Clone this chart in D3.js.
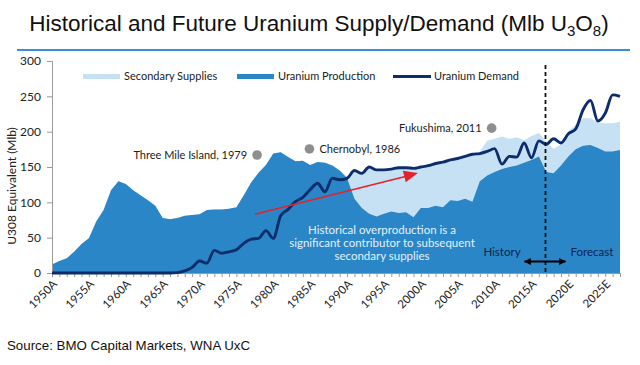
<!DOCTYPE html>
<html>
<head>
<meta charset="utf-8">
<script src="https://cdn.jsdelivr.net/npm/d3@7"></script>
<style>
  html, body { margin: 0; padding: 0; background: #fff; }
  svg { display: block; }
</style>
</head>
<body>
<svg id="chart" width="640" height="365"></svg>
<script>
// ---------- DATA ----------
const years = d3.range(1950, 2028);

const production = [
  12, 17, 21, 30, 41, 49, 73, 89, 117, 130,
  126, 117, 110, 103, 95, 78, 76, 78, 81, 82,
  83, 89, 90, 90, 91, 93, 110, 128, 142, 153,
  169, 171, 164, 158, 159, 153, 157, 156, 152, 145,
  134, 105, 92, 84, 80, 84, 87, 85, 86, 79,
  92, 92, 95, 93, 103, 102, 105, 101, 130, 138,
  143, 147, 150, 152, 156, 160, 165, 143, 141, 152,
  165, 175, 180, 181, 177, 172, 172, 174
];

const totalSupply = [
  12, 17, 21, 30, 41, 49, 73, 89, 117, 130,
  126, 117, 110, 103, 95, 78, 76, 78, 81, 82,
  83, 89, 90, 90, 91, 93, 110, 128, 142, 153,
  169, 171, 164, 158, 159, 153, 157, 156, 152, 145,
  137, 143, 142, 148, 145, 145, 146, 147, 147, 146,
  148, 150, 153, 155, 158, 160, 163, 166, 172, 187,
  190, 193, 190, 192, 188, 194, 198, 186, 176, 182,
  200, 210, 219, 219, 213, 212, 212, 214
];

const demand = [
  0, 0, 0, 0, 0, 0, 0, 0, 0, 0,
  0, 0, 0, 0, 0, 0, 0, 0.5, 3, 8,
  17, 14, 32, 28, 30, 33, 42, 48, 49, 60,
  49, 81, 90, 101, 107, 118, 127, 115, 134, 132,
  134, 145, 141, 150, 146, 146, 147, 149, 149, 148,
  150, 152, 155, 157, 160, 162, 165, 168, 169, 172,
  176, 154, 165, 164, 184, 163, 187, 182, 190, 184,
  197, 204, 231, 244, 215, 226, 252, 250
];

const yTicks = [0, 50, 100, 150, 200, 250, 300];
const xLabelYears = [1950, 1955, 1960, 1965, 1970, 1975, 1980, 1985, 1990, 1995, 2000, 2005, 2010, 2015, 2020, 2025];
const xLabels = ["1950A", "1955A", "1960A", "1965A", "1970A", "1975A", "1980A", "1985A", "1990A", "1995A", "2000A", "2005A", "2010A", "2015A", "2020E", "2025E"];

const seriesNames = ["Secondary Supplies", "Uranium Production", "Uranium Demand"];

const eventNames = ["Three Mile Island, 1979", "Chernobyl, 1986", "Fukushima, 2011"];
const eventYears = [1977.8, 1984.9, 2009.6];
const eventValues = [167, 175.5, 205];

const noteLines = ["Historical overproduction is a", "significant contributor to subsequent", "secondary supplies"];
const forecastStart = 2016.9;

// red trend arrow (year, value) start and end
const trendYears = [1977.5, 1999.6];
const trendValues = [83, 141.5];

// ---------- STYLE ----------
const C = {
  prod: "#2A86C6",
  sec: "#C7E1F4",
  demand: "#0B2D6B",
  axis: "#9a9a9a",
  text: "#222",
  dot: "#8E8E8E",
  red: "#E3232C",
  titleLine: "#3C8EDC"
};
const labelFont = "Lato, 'Open Sans', sans-serif";

const svg = d3.select("#chart");

const x = d3.scaleLinear().domain([1950, 2027]).range([52, 620]);
const y = d3.scaleLinear().domain([0, 300]).range([273, 61]);

// ---------- TITLE ----------
const title = svg.append("text")
  .attr("x", 319).attr("y", 31)
  .attr("text-anchor", "middle")
  .attr("font-family", "'Liberation Sans', Arial, sans-serif")
  .attr("font-size", 22.5)
  .attr("fill", "#111");
title.append("tspan").text("Historical and Future Uranium Supply/Demand (Mlb U");
title.append("tspan").attr("font-size", 15).attr("dy", 5).text("3");
title.append("tspan").attr("dy", -5).text("O");
title.append("tspan").attr("font-size", 15).attr("dy", 5).text("8");
title.append("tspan").attr("dy", -5).text(")");

svg.append("line")
  .attr("x1", 17).attr("x2", 630).attr("y1", 50).attr("y2", 50)
  .attr("stroke", C.titleLine).attr("stroke-width", 2);

// ---------- AREAS ----------
const rows = years.map((yr, i) => ({ yr, p: production[i], t: totalSupply[i], d: demand[i] }));

svg.append("path").datum(rows)
  .attr("fill", C.sec)
  .attr("d", d3.area().x(d => x(d.yr)).y0(y(0)).y1(d => y(d.t)));

svg.append("path").datum(rows)
  .attr("fill", C.prod)
  .attr("d", d3.area().x(d => x(d.yr)).y0(y(0)).y1(d => y(d.p)));

// ---------- AXES ----------
const yAxis = d3.axisLeft(y).tickValues(yTicks).tickSize(5).tickPadding(6);
const gy = svg.append("g").attr("transform", `translate(${x(1950)},0)`).call(yAxis);
gy.select(".domain").attr("stroke", C.axis);
gy.selectAll(".tick line").attr("stroke", C.axis);
gy.selectAll(".tick text")
  .attr("font-family", labelFont).attr("font-size", 12).attr("fill", C.text);

const xAxis = d3.axisBottom(x).tickValues(years).tickSize(4).tickFormat("");
const gx = svg.append("g").attr("transform", `translate(0,${y(0)})`).call(xAxis);
gx.select(".domain").attr("stroke", C.axis);
gx.selectAll(".tick line").attr("stroke", C.axis);

svg.append("g").selectAll("text")
  .data(xLabelYears)
  .join("text")
  .attr("transform", d => `translate(${x(d) + 3},${y(0) + 9}) rotate(-45)`)
  .attr("text-anchor", "end")
  .attr("dy", "0.35em")
  .attr("font-family", labelFont).attr("font-size", 11.5).attr("fill", C.text)
  .text((d, i) => xLabels[i]);

svg.append("text")
  .attr("transform", "translate(16,186) rotate(-90)")
  .attr("text-anchor", "middle")
  .attr("font-family", labelFont).attr("font-size", 12).attr("fill", C.text)
  .text("U308 Equivalent (Mlb)");

// ---------- DEMAND LINE ----------
svg.append("path").datum(rows)
  .attr("fill", "none")
  .attr("stroke", C.demand)
  .attr("stroke-width", 2.9)
  .attr("stroke-linejoin", "round")
  .attr("d", d3.line().x(d => x(d.yr)).y(d => y(d.d)).curve(d3.curveMonotoneX));

// ---------- RED ARROW ----------
const defs = svg.append("defs");
defs.append("marker").attr("id", "blkHead")
  .attr("viewBox", "0 0 10 10").attr("refX", 9).attr("refY", 5)
  .attr("markerWidth", 7).attr("markerHeight", 8).attr("orient", "auto-start-reverse")
  .attr("markerUnits", "userSpaceOnUse")
  .append("path").attr("d", "M0,0L10,5L0,10Z").attr("fill", "#000");

{
  const x1 = x(trendYears[0]), y1 = y(trendValues[0]);
  const x2 = x(trendYears[1]), y2 = y(trendValues[1]);
  const ang = Math.atan2(y2 - y1, x2 - x1);
  const L = 14, W = 6;
  const bx = x2 - L * Math.cos(ang), by = y2 - L * Math.sin(ang);
  const px = -Math.sin(ang) * W, py = Math.cos(ang) * W;
  svg.append("line")
    .attr("x1", x1).attr("y1", y1).attr("x2", bx + 1).attr("y2", by)
    .attr("stroke", C.red).attr("stroke-width", 1.6);
  svg.append("path")
    .attr("d", `M${x2},${y2}L${bx + px},${by + py}L${bx - px},${by - py}Z`)
    .attr("fill", C.red);
}

// ---------- FORECAST DIVIDER ----------
svg.append("line")
  .attr("x1", x(forecastStart)).attr("x2", x(forecastStart))
  .attr("y1", 65).attr("y2", y(0))
  .attr("stroke", "#111").attr("stroke-width", 1.8)
  .attr("stroke-dasharray", "4,3");

svg.append("line")
  .attr("x1", x(forecastStart) - 21).attr("x2", x(forecastStart) + 20)
  .attr("y1", 261.5).attr("y2", 261.5)
  .attr("stroke", "#000").attr("stroke-width", 1.8)
  .attr("marker-start", "url(#blkHead)").attr("marker-end", "url(#blkHead)");

svg.append("text").attr("x", 502).attr("y", 255.5)
  .attr("text-anchor", "middle")
  .attr("font-family", labelFont).attr("font-size", 11.5).attr("fill", "#0E2450")
  .text("History");
svg.append("text").attr("x", 592).attr("y", 255.5)
  .attr("text-anchor", "middle")
  .attr("font-family", labelFont).attr("font-size", 11.5).attr("fill", "#0E2450")
  .text("Forecast");

// ---------- NOTE ----------
svg.append("g").selectAll("text")
  .data(noteLines).join("text")
  .attr("x", 382).attr("y", (d, i) => 234 + i * 13)
  .attr("text-anchor", "middle")
  .attr("font-family", labelFont).attr("font-size", 11.5).attr("fill", "#E4F1FB")
  .text(d => d);

// ---------- EVENTS ----------
const ev = svg.append("g");
ev.selectAll("circle").data(eventNames).join("circle")
  .attr("cx", (d, i) => x(eventYears[i]))
  .attr("cy", (d, i) => y(eventValues[i]))
  .attr("r", 4.8).attr("fill", C.dot);
ev.selectAll("text").data(eventNames).join("text")
  .attr("x", (d, i) => x(eventYears[i]) + (i === 1 ? 10 : -10))
  .attr("y", (d, i) => y(eventValues[i]))
  .attr("dy", "0.35em")
  .attr("text-anchor", (d, i) => i === 1 ? "start" : "end")
  .attr("font-family", labelFont).attr("font-size", 11).attr("fill", C.text)
  .text(d => d);

// ---------- LEGEND ----------
const lg = svg.append("g");
const lgSw = [83, 237, 393];
const lgTx = [124, 278, 434];
lg.append("rect").attr("x", lgSw[0]).attr("y", 74).attr("width", 37).attr("height", 5).attr("fill", C.sec);
lg.append("rect").attr("x", lgSw[1]).attr("y", 74).attr("width", 37).attr("height", 5).attr("fill", C.prod);
lg.append("line").attr("x1", lgSw[2]).attr("x2", lgSw[2] + 38).attr("y1", 76.5).attr("y2", 76.5)
  .attr("stroke", C.demand).attr("stroke-width", 2.9);
lg.selectAll("text").data(seriesNames).join("text")
  .attr("x", (d, i) => lgTx[i]).attr("y", 76.5).attr("dy", "0.35em")
  .attr("font-family", labelFont).attr("font-size", 11).attr("fill", C.text)
  .text(d => d);

// ---------- SOURCE ----------
svg.append("text").attr("x", 7).attr("y", 350)
  .attr("font-family", "'Liberation Sans', Arial, sans-serif")
  .attr("font-size", 13.3).attr("fill", "#111")
  .text("Source: BMO Capital Markets, WNA UxC");
</script>
</body>
</html>
